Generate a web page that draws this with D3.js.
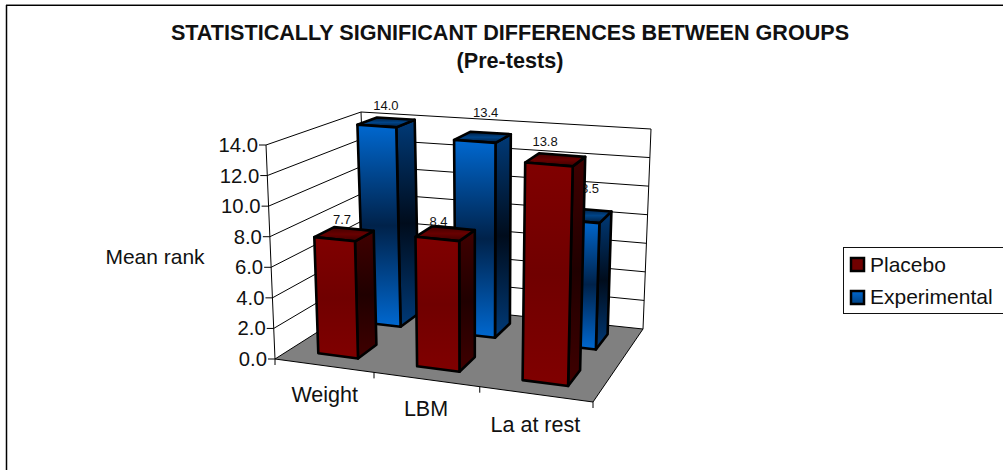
<!DOCTYPE html>
<html><head><meta charset="utf-8">
<script src="https://cdnjs.cloudflare.com/ajax/libs/d3/7.8.5/d3.min.js"></script>
<style>html,body{margin:0;padding:0;background:#fff}svg{display:block}text{font-family:"Liberation Sans",Arial,sans-serif;fill:#111}</style>
</head><body><svg id="c" width="1003" height="470"></svg>
<script>
const categories = ["Weight", "LBM", "La at rest"];
const seriesNames = ["Placebo", "Experimental"];
const placebo = [7.7, 8.4, 13.8];
const experimental = [14.0, 13.4, 8.5];
const valueTicks = [0, 2, 4, 6, 8, 10, 12, 14];
const titleLines = ["STATISTICALLY SIGNIFICANT DIFFERENCES BETWEEN GROUPS", "(Pre-tests)"];
const yTitle = "Mean rank";

const svg = d3.select("#c");
// projected box corners
const fl0=[275,359], fr0=[593,402], bl0=[368,300], br0=[643,329];
const fl1=[266,145], fr1=[599,173], bl1=[361,112], br1=[651,129];
const persp = 1.106;
const uScale = d3.scaleLinear().domain([0,categories.length]).range([0,1]);
const vScale = d3.scaleLinear().domain([0,14]).range([0,1]);
const warp = s => s/(s+persp*(1-s));
const lerp=(a,b,t)=>[a[0]+(b[0]-a[0])*t,a[1]+(b[1]-a[1])*t];
function P(u,d,v){
  const t=warp(uScale(u));
  const bottom=lerp(lerp(fl0,fr0,t),lerp(bl0,br0,t),d);
  const top=lerp(lerp(fl1,fr1,t),lerp(bl1,br1,t),d);
  return lerp(bottom,top,vScale(v));
}
const path=pts=>"M"+pts.map(p=>p.map(x=>x.toFixed(1)).join(",")).join("L")+"Z";
const defs=svg.append("defs");
function grad(id,stops){
  const g=defs.append("linearGradient").attr("id",id).attr("x1",0).attr("y1",0).attr("x2",0).attr("y2",1);
  stops.forEach(([o,c])=>g.append("stop").attr("offset",o).attr("stop-color",c));
}
grad("bF",[[0,"#0068d0"],[.5,"#00224a"],[1,"#0068d0"]]);
grad("bS",[[0,"#003a78"],[.5,"#000c1c"],[1,"#003a78"]]);
grad("bT",[[0,"#001c3c"],[.5,"#004488"],[1,"#001c3c"]]);
grad("rF",[[0,"#800000"],[.5,"#700000"],[1,"#800000"]]);
grad("rS",[[0,"#400000"],[.5,"#200000"],[1,"#400000"]]);
grad("rT",[[0,"#400000"],[.5,"#680000"],[1,"#400000"]]);
grad("lb",[[0,"#0068d0"],[1,"#004080"]]);

// frame: only the top and left edges show
svg.append("line").attr("x1",6).attr("x2",1003).attr("y1",4.5).attr("y2",4.5).attr("stroke","#888");
svg.append("line").attr("x1",6).attr("x2",1003).attr("y1",5.5).attr("y2",5.5).attr("stroke","#000");
svg.append("line").attr("x1",6.5).attr("x2",6.5).attr("y1",5).attr("y2",470).attr("stroke","#000").attr("stroke-width",1.5);

// floor and walls
svg.append("path").attr("d",path([P(0,0,0),P(3,0,0),P(3,1,0),P(0,1,0)])).attr("fill","#808080").attr("stroke","none");
svg.append("path").attr("d",`M${P(0,0,0)}L${P(3,0,0)}L${P(3,1,0)}`).attr("fill","none").attr("stroke","#000").attr("stroke-width",1);
const gl=svg.append("g").attr("fill","none").attr("stroke","#000").attr("stroke-width",1);
valueTicks.forEach(v=>{
  gl.append("path").attr("d",`M${P(0,0,v)}L${P(0,1,v)}L${P(3,1,v)}`);
  const a=P(0,0,v);
  gl.append("line").attr("x1",a[0]-7).attr("y1",a[1]).attr("x2",a[0]).attr("y2",a[1]);
  svg.append("text").attr("x",a[0]-8).attr("y",a[1]+7).attr("text-anchor","end").attr("font-size",20.3).text(d3.format(".1f")(v));
});
gl.append("path").attr("d",`M${P(0,0,0)}L${P(0,0,14)}`);
gl.append("path").attr("d",`M${P(0,1,0)}L${P(0,1,14)}`);
gl.append("path").attr("d",`M${P(3,1,0)}L${P(3,1,14)}`);
d3.range(categories.length+1).forEach(i=>{
  const a=P(i,0,0);
  gl.append("line").attr("x1",a[0]).attr("y1",a[1]).attr("x2",a[0]).attr("y2",a[1]+6);
});
const catNudge=[[1,36],[0,37],[0,38]];
categories.forEach((c,i)=>{
  const a=P(i+.5,0,0);
  svg.append("text").attr("x",a[0]+catNudge[i][0]).attr("y",a[1]+catNudge[i][1]).attr("text-anchor","middle").attr("font-size",21.5).text(c);
});

function bar(u0,u1,d0,d1,v,pre,label,nudge){
  const g=svg.append("g").attr("stroke","#000").attr("stroke-width",2.6).attr("stroke-linejoin","round");
  g.append("path").attr("d",path([P(u1,d0,0),P(u1,d1,0),P(u1,d1,v),P(u1,d0,v)])).attr("fill",`url(#${pre}S)`);
  g.append("path").attr("d",path([P(u0,d0,v),P(u1,d0,v),P(u1,d1,v),P(u0,d1,v)])).attr("fill",`url(#${pre}T)`);
  g.append("path").attr("d",path([P(u0,d0,0),P(u1,d0,0),P(u1,d0,v),P(u0,d0,v)])).attr("fill",`url(#${pre}F)`);
  const c=P((u0+u1)/2+.05,(d0+d1)/2,v);
  svg.append("text").attr("x",c[0]+nudge[0]).attr("y",c[1]-13+nudge[1]).attr("text-anchor","middle").attr("font-size",13).text(label);
}
const expNudge=[[-5,0],[-2,-8],[1,-10]];
const plaNudge=[[-7,2],[-12,5],[-16,-1]];
experimental.forEach((v,i)=>bar(i+.3,i+.71,.67,.885,v,"b",d3.format(".1f")(v),expNudge[i]));
placebo.forEach((v,i)=>bar(i+.3,i+.71,.16,.38,v,"r",d3.format(".1f")(v),plaNudge[i]));

svg.append("text").attr("x",155).attr("y",264).attr("text-anchor","middle").attr("font-size",21).text(yTitle);
titleLines.forEach((t,i)=>svg.append("text").attr("x",510).attr("y",40+i*28).attr("text-anchor","middle").attr("font-size",21.6).attr("font-weight","bold").text(t));

// legend
svg.append("rect").attr("x",843.5).attr("y",247.5).attr("width",200).attr("height",66).attr("fill","#fff").attr("stroke","#111");
seriesNames.forEach((n,i)=>{
  const y=[264.5,297.5][i];
  svg.append("rect").attr("x",851).attr("y",y-6.5).attr("width",13).attr("height",13).attr("fill",["#700000","url(#lb)"][i]).attr("stroke","#000").attr("stroke-width",2.5);
  svg.append("text").attr("x",870).attr("y",[272,304][i]).attr("font-size",21).text(n);
});
</script></body></html>
